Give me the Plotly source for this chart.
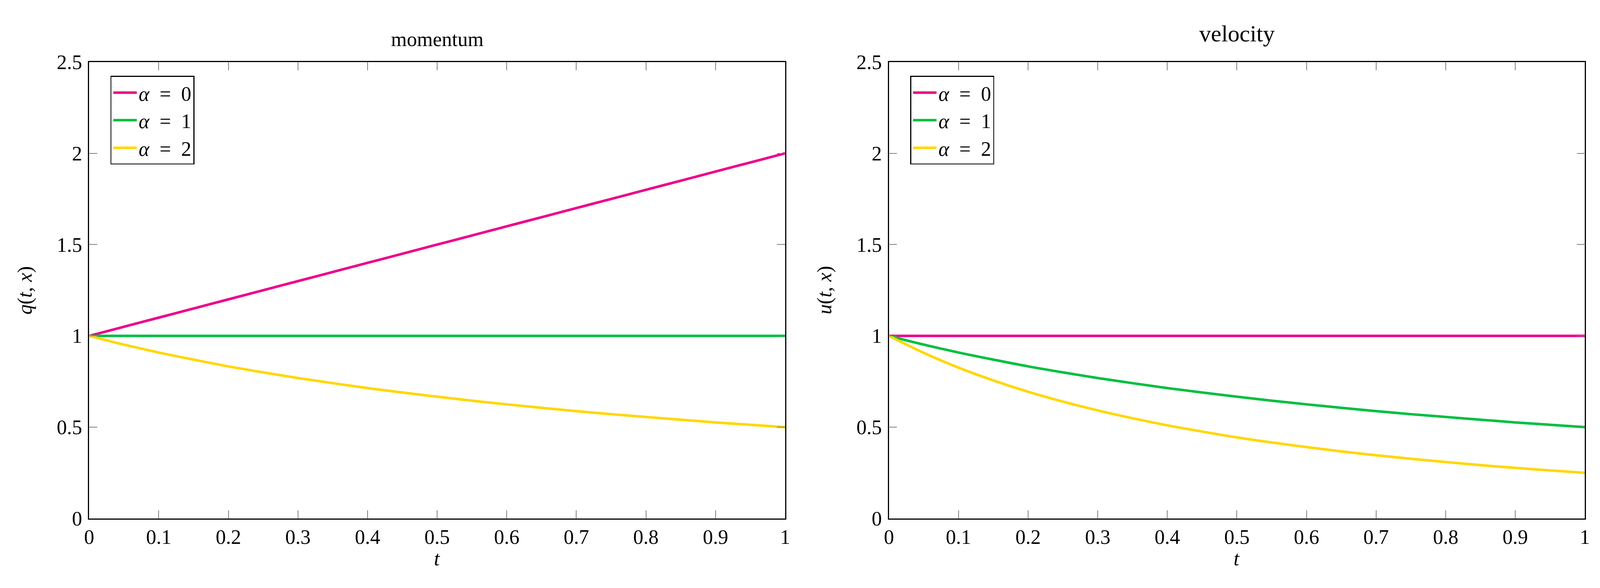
import plotly.graph_objects as go

# ---- data ----
t = [0.00, 0.05, 0.10, 0.15, 0.20, 0.25, 0.30, 0.35, 0.40, 0.45, 0.50,
     0.55, 0.60, 0.65, 0.70, 0.75, 0.80, 0.85, 0.90, 0.95, 1.00]

q_alpha0 = [1.00, 1.05, 1.10, 1.15, 1.20, 1.25, 1.30, 1.35, 1.40, 1.45, 1.50,
            1.55, 1.60, 1.65, 1.70, 1.75, 1.80, 1.85, 1.90, 1.95, 2.00]
q_alpha1 = [1.00] * 21
q_alpha2 = [1.000, 0.952, 0.909, 0.870, 0.833, 0.800, 0.769, 0.741, 0.714, 0.690, 0.667,
            0.645, 0.625, 0.606, 0.588, 0.571, 0.556, 0.541, 0.526, 0.513, 0.500]

u_alpha0 = [1.00] * 21
u_alpha1 = [1.000, 0.952, 0.909, 0.870, 0.833, 0.800, 0.769, 0.741, 0.714, 0.690, 0.667,
            0.645, 0.625, 0.606, 0.588, 0.571, 0.556, 0.541, 0.526, 0.513, 0.500]
u_alpha2 = [1.000, 0.907, 0.826, 0.756, 0.694, 0.640, 0.592, 0.549, 0.510, 0.476, 0.444,
            0.416, 0.391, 0.367, 0.346, 0.327, 0.309, 0.292, 0.277, 0.263, 0.250]

series_names = ["<i>α</i>  =  0", "<i>α</i>  =  1", "<i>α</i>  =  2"]
colors = ["rgb(236,0,140)", "rgb(0,191,64)", "rgb(255,215,0)"]

x_ticks = [0, 0.1, 0.2, 0.3, 0.4, 0.5, 0.6, 0.7, 0.8, 0.9, 1]
x_ticklabels = ["0", "0.1", "0.2", "0.3", "0.4", "0.5", "0.6", "0.7", "0.8", "0.9", "1"]
y_ticks = [0, 0.5, 1, 1.5, 2, 2.5]
y_ticklabels = ["0", "0.5", "1", "1.5", "2", "2.5"]

W, H = 4272, 1506
FONT = "Liberation Serif"
FS = 52

fig = go.Figure()

for ys, name, c in zip([q_alpha0, q_alpha1, q_alpha2], series_names, colors):
    fig.add_trace(go.Scatter(x=t, y=ys, mode="lines", name=name, line=dict(color=c, width=6.5, shape="spline"),
                             xaxis="x", yaxis="y", legend="legend"))
for ys, name, c in zip([u_alpha0, u_alpha1, u_alpha2], series_names, colors):
    fig.add_trace(go.Scatter(x=t, y=ys, mode="lines", name=name, line=dict(color=c, width=6.5, shape="spline"),
                             xaxis="x2", yaxis="y2", legend="legend2"))

xd1 = [226 / W, 2096 / W]
xd2 = [2375 / W, 4245 / W]
yd = [(H - 1351) / H, (H - 136) / H]

common_x = dict(range=[0, 1], tickvals=x_ticks, ticktext=x_ticklabels, showgrid=False, zeroline=False,
                showline=True, linecolor="black", linewidth=2.5, mirror="ticks", ticks="inside",
                ticklen=21, tickwidth=1.5, tickcolor="rgb(128,128,128)",
                tickfont=dict(family=FONT, size=FS, color="black"), ticklabelstandoff=0)
common_y = dict(range=[0, 2.5], tickvals=y_ticks, ticktext=y_ticklabels, showgrid=False, zeroline=False,
                showline=True, linecolor="black", linewidth=2.5, mirror="ticks", ticks="inside",
                ticklen=21, tickwidth=1.5, tickcolor="rgb(128,128,128)",
                tickfont=dict(family=FONT, size=FS, color="black"), ticklabelstandoff=5)

legend_common = dict(bgcolor="white", bordercolor="black", borderwidth=2.5,
                     font=dict(family=FONT, size=FS, color="black"),
                     xanchor="left", yanchor="top", tracegroupgap=0, itemwidth=60)

fig.update_layout(
    autosize=True,
    margin=dict(l=0, r=0, t=0, b=0),
    paper_bgcolor="white", plot_bgcolor="white",
    showlegend=True,
    xaxis=dict(domain=xd1, anchor="y", **common_x),
    yaxis=dict(domain=yd, anchor="x", **common_y),
    xaxis2=dict(domain=xd2, anchor="y2", **common_x),
    yaxis2=dict(domain=yd, anchor="x2", **common_y),
    legend=dict(x=283 / W, y=(H - 173) / H, **legend_common),
    legend2=dict(x=(283 + 2149) / W, y=(H - 173) / H, **legend_common),
    annotations=[
        dict(text="momentum", x=(xd1[0] + xd1[1]) / 2, y=(H - 75) / H, xref="paper", yref="paper",
             showarrow=False, font=dict(family=FONT, size=FS, color="black"), xanchor="center", yanchor="middle"),
        dict(text="velocity", x=(xd2[0] + xd2[1]) / 2, y=(H - 60) / H, xref="paper", yref="paper",
             showarrow=False, font=dict(family=FONT, size=60, color="black"), xanchor="center", yanchor="middle"),
        dict(text="<i>t</i>", x=(xd1[0] + xd1[1]) / 2, y=(H - 1458) / H, xref="paper", yref="paper",
             showarrow=False, font=dict(family=FONT, size=FS, color="black"), xanchor="center", yanchor="middle"),
        dict(text="<i>t</i>", x=(xd2[0] + xd2[1]) / 2, y=(H - 1458) / H, xref="paper", yref="paper",
             showarrow=False, font=dict(family=FONT, size=FS, color="black"), xanchor="center", yanchor="middle"),
        dict(text="<i>q</i>(<i>t</i>, <i>x</i>)", x=54 / W, y=(yd[0] + yd[1]) / 2, xref="paper", yref="paper",
             showarrow=False, textangle=-90, font=dict(family=FONT, size=FS, color="black"),
             xanchor="center", yanchor="middle"),
        dict(text="<i>u</i>(<i>t</i>, <i>x</i>)", x=(54 + 2149) / W, y=(yd[0] + yd[1]) / 2, xref="paper", yref="paper",
             showarrow=False, textangle=-90, font=dict(family=FONT, size=FS, color="black"),
             xanchor="center", yanchor="middle"),
    ],
)

fig.write_html(
    "out.html",
    default_width="100vw",
    default_height="100vh",
    config={"responsive": True, "displayModeBar": False},
    post_script=(
        "document.documentElement.style.margin='0';"
        "document.body.style.margin='0';document.body.style.overflow='hidden';"
        "var d=document.getElementById('{plot_id}');"
        "d.style.position='fixed';d.style.top='0px';d.style.left='0px';"
        "d.style.width='100vw';d.style.height='100vh';"
        "Plotly.Plots.resize(d);"
    ),
)
